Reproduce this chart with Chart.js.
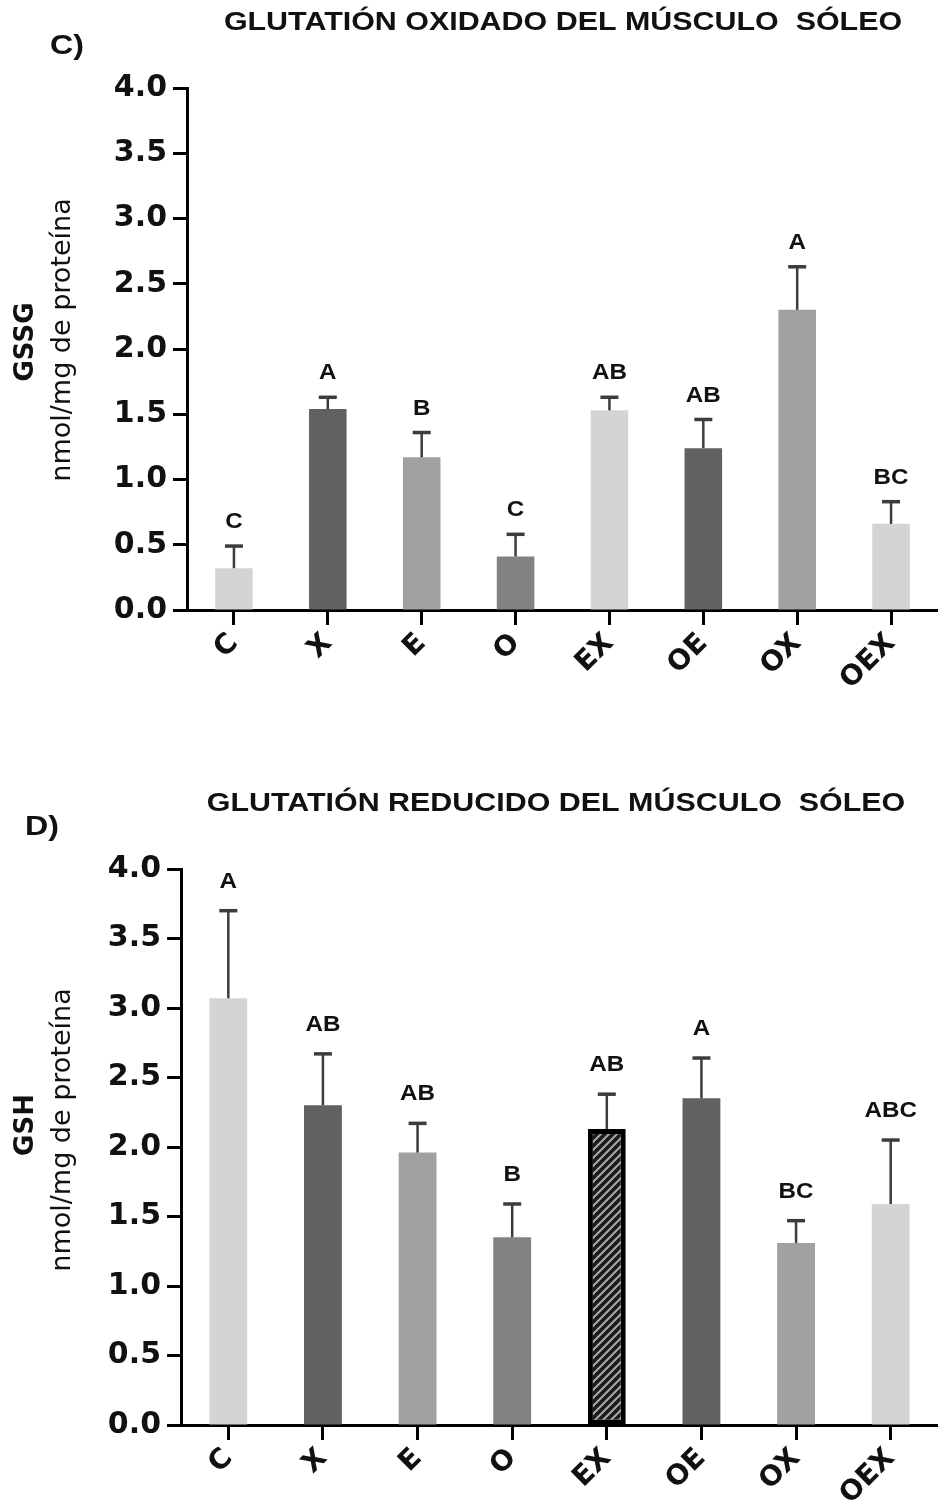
<!DOCTYPE html>
<html>
<head>
<meta charset="utf-8">
<script src="https://cdn.jsdelivr.net/npm/chart.js@4/dist/chart.umd.min.js"></script>
<style>
  body { margin: 0; background: #fff; }
  canvas { position: absolute; left: 0; }
</style>
</head>
<body>
<canvas id="gssg" width="938" height="751" style="top:0"></canvas>
<canvas id="gsh" width="938" height="751" style="top:751px"></canvas>
<script>
// grupos y escala
const groups = ["C", "X", "E", "O", "EX", "OE", "OX", "OEX"];
const yTicks = [0, 0.5, 1, 1.5, 2, 2.5, 3, 3.5, 4];

// C) glutatión oxidado
const gssgMeans = [0.32, 1.54, 1.17, 0.41, 1.53, 1.24, 2.30, 0.66];
const gssgSem = [0.17, 0.09, 0.19, 0.17, 0.10, 0.22, 0.33, 0.17];
const gssgLetters = ["C", "A", "B", "C", "AB", "AB", "A", "BC"];

// D) glutatión reducido
const gshMeans = [3.07, 2.30, 1.96, 1.35, 2.13, 2.35, 1.31, 1.59];
const gshSem = [0.63, 0.37, 0.21, 0.24, 0.25, 0.29, 0.16, 0.46];
const gshLetters = ["A", "AB", "AB", "B", "AB", "A", "BC", "ABC"];

const LIGHT = "#d4d4d4", DARK = "#616161", MID = "#a1a1a1", MID2 = "#828282";

function hatchPattern() {
  const c = document.createElement("canvas");
  c.width = 8; c.height = 8;
  const g = c.getContext("2d");
  g.fillStyle = "#1a1a1a";
  g.fillRect(0, 0, 8, 8);
  g.strokeStyle = "#a5a5a5";
  g.lineWidth = 2.2;
  g.beginPath();
  g.moveTo(-2, 2); g.lineTo(2, -2);
  g.moveTo(0, 8); g.lineTo(8, 0);
  g.moveTo(6, 10); g.lineTo(10, 6);
  g.stroke();
  return g.createPattern(c, "repeat");
}

// barras de error, letras y textos
const annotPlugin = {
  id: "annot",
  afterDatasetsDraw(chart, args, opts) {
    const ctx = chart.ctx;
    const y = chart.scales.y;
    const meta = chart.getDatasetMeta(0);
    const means = chart.data.datasets[0].data;
    ctx.save();
    meta.data.forEach((bar, i) => {
      const top = y.getPixelForValue(means[i] + opts.sem[i]);
      ctx.strokeStyle = "#3c3c3c";
      ctx.lineWidth = 2.5;
      ctx.beginPath();
      ctx.moveTo(bar.x, bar.y);
      ctx.lineTo(bar.x, top);
      ctx.stroke();
      ctx.lineWidth = 3.5;
      ctx.beginPath();
      ctx.moveTo(bar.x - 9, top);
      ctx.lineTo(bar.x + 9, top);
      ctx.stroke();
      ctx.save();
      ctx.translate(bar.x, top - opts.gap);
      ctx.scale(1.1, 1);
      ctx.fillStyle = "#111";
      ctx.font = "bold 22px 'Liberation Sans'";
      ctx.textAlign = "center";
      ctx.textBaseline = "middle";
      ctx.fillText(opts.letters[i], 0, 0);
      ctx.restore();
    });
    ctx.restore();
  },
  afterDraw(chart, args, opts) {
    const ctx = chart.ctx;
    ctx.save();
    ctx.fillStyle = "#111";
    ctx.textBaseline = "middle";
    ctx.textAlign = "center";
    // título
    ctx.save();
    ctx.translate(opts.titleX, opts.titleY);
    ctx.scale(1.17, 1);
    ctx.font = "bold 26px 'Liberation Sans'";
    ctx.fillText(opts.title, 0, 0);
    ctx.restore();
    // letra del panel
    ctx.save();
    ctx.translate(opts.panelX, opts.panelY);
    ctx.scale(1.15, 1);
    ctx.font = "bold 28px 'Liberation Sans'";
    ctx.fillText(opts.panel, 0, 0);
    ctx.restore();
    // título eje y
    ctx.save();
    ctx.translate(26, opts.yTitleY);
    ctx.rotate(-Math.PI / 2);
    ctx.font = "bold 26px 'DejaVu Sans'";
    ctx.fillText(opts.yTitle, 0, 0);
    ctx.restore();
    ctx.save();
    ctx.translate(63, opts.yTitleY2);
    ctx.rotate(-Math.PI / 2);
    ctx.font = "27px 'DejaVu Sans'";
    ctx.fillText("nmol/mg de proteína", 0, 0);
    ctx.restore();
    ctx.restore();
  }
};

function makeChart(id, means, sem, letters, colors, layout) {
  new Chart(document.getElementById(id), {
    type: "bar",
    data: {
      labels: groups,
      datasets: [{
        data: means,
        backgroundColor: colors.fill,
        borderColor: "#000",
        borderWidth: colors.border,
        borderSkipped: false,
        barPercentage: 0.4,
        categoryPercentage: 1
      }]
    },
    options: {
      responsive: false,
      devicePixelRatio: 1,
      animation: false,
      layout: { padding: { top: layout.top, right: 0, bottom: 0, left: 0 } },
      plugins: {
        legend: { display: false },
        tooltip: { enabled: false },
        annot: {
          sem: sem, letters: letters, gap: layout.gap,
          title: layout.title, titleX: layout.titleX, titleY: layout.titleY,
          panel: layout.panel, panelX: layout.panelX, panelY: layout.panelY,
          yTitle: layout.yTitle, yTitleY: layout.yTitleY, yTitleY2: layout.yTitleY2
        }
      },
      scales: {
        x: {
          offset: true,
          afterFit: (s) => { s.height = 751 - layout.bottom; },
          grid: { display: true, drawOnChartArea: false, offset: false, color: "#000", tickLength: 15, tickWidth: 3 },
          border: { color: "#000", width: 3 },
          ticks: {
            color: "#111",
            autoSkip: false,
            minRotation: 45,
            maxRotation: 45,
            padding: 2,
            font: { family: "DejaVu Sans", weight: "bold", size: 28 }
          }
        },
        y: {
          min: 0,
          max: 4,
          afterFit: (s) => { s.width = layout.left; },
          afterBuildTicks: (s) => { s.ticks = yTicks.map((v) => ({ value: v })); },
          grid: { drawOnChartArea: false, color: "#000", tickLength: 14, tickWidth: 3 },
          border: { color: "#000", width: 3 },
          ticks: {
            color: "#111",
            padding: 6,
            callback: (v) => v.toFixed(1),
            font: { family: "DejaVu Sans", weight: "bold", size: 30 }
          }
        }
      }
    },
    plugins: [annotPlugin]
  });
}

makeChart("gssg", gssgMeans, gssgSem, gssgLetters,
  { fill: [LIGHT, DARK, MID, MID2, LIGHT, DARK, MID, LIGHT], border: 0 },
  { top: 88, bottom: 610, left: 187, gap: 24,
    title: "GLUTATIÓN OXIDADO DEL MÚSCULO  SÓLEO", titleX: 563, titleY: 23,
    panel: "C)", panelX: 67, panelY: 46,
    yTitle: "GSSG", yTitleY: 342, yTitleY2: 340 });

makeChart("gsh", gshMeans, gshSem, gshLetters,
  { fill: [LIGHT, DARK, MID, MID2, hatchPattern(), DARK, MID, LIGHT], border: [0, 0, 0, 0, 5, 0, 0, 0] },
  { top: 118, bottom: 674, left: 181, gap: 29,
    title: "GLUTATIÓN REDUCIDO DEL MÚSCULO  SÓLEO", titleX: 556, titleY: 53,
    panel: "D)", panelX: 42, panelY: 76,
    yTitle: "GSH", yTitleY: 374, yTitleY2: 379 });
</script>
</body>
</html>
